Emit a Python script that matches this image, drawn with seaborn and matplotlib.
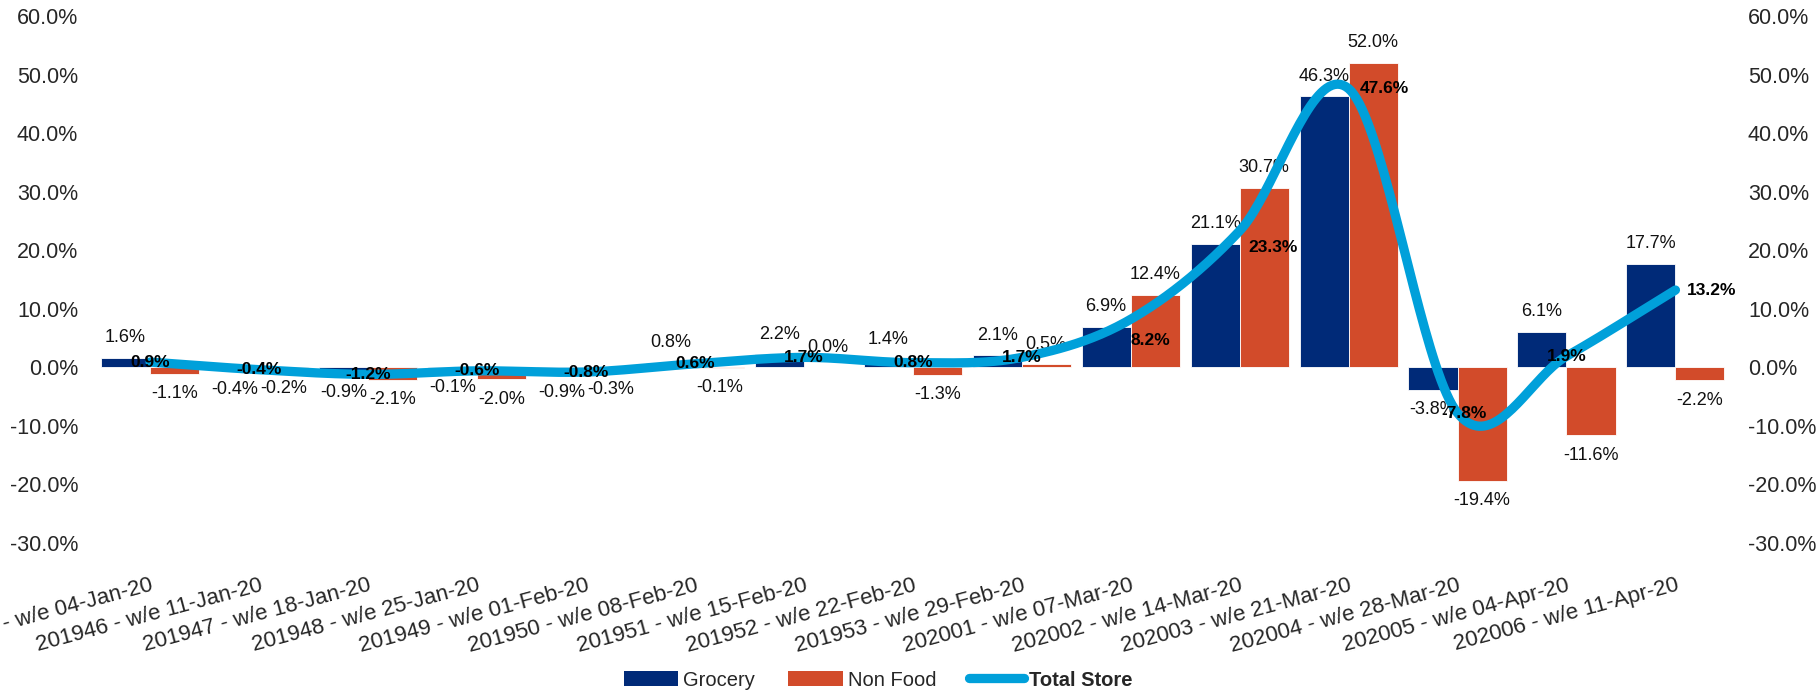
import numpy as np
import pandas as pd
import matplotlib
matplotlib.use("Agg")
import matplotlib.pyplot as plt
import seaborn as sns
from matplotlib.ticker import FuncFormatter, MultipleLocator
from matplotlib.lines import Line2D
from matplotlib.patches import Patch

# ---- data -----------------------------------------------------------------
weeks = [
    "201945 - w/e 04-Jan-20", "201946 - w/e 11-Jan-20", "201947 - w/e 18-Jan-20",
    "201948 - w/e 25-Jan-20", "201949 - w/e 01-Feb-20", "201950 - w/e 08-Feb-20",
    "201951 - w/e 15-Feb-20", "201952 - w/e 22-Feb-20", "201953 - w/e 29-Feb-20",
    "202001 - w/e 07-Mar-20", "202002 - w/e 14-Mar-20", "202003 - w/e 21-Mar-20",
    "202004 - w/e 28-Mar-20", "202005 - w/e 04-Apr-20", "202006 - w/e 11-Apr-20",
]
grocery = [1.6, -0.4, -0.9, -0.1, -0.9, 0.8, 2.2, 1.4, 2.1, 6.9, 21.1, 46.3, -3.8, 6.1, 17.7]
non_food = [-1.1, -0.2, -2.1, -2.0, -0.3, -0.1, 0.0, -1.3, 0.5, 12.4, 30.7, 52.0, -19.4, -11.6, -2.2]
total_store = [0.9, -0.4, -1.2, -0.6, -0.8, 0.6, 1.7, 0.8, 1.7, 8.2, 23.3, 47.6, -7.8, 1.9, 13.2]

# ---- style ----------------------------------------------------------------
NAVY = "#002A78"
ORANGE = "#D24B2A"
BLUE = "#00A0DA"

# label nudges (points) for the Total Store values
total_label_offsets = {9: (14, -15), 10: (24, -12), 11: (26, 0), 12: (5, 0), 14: (26, 0)}

sns.set_theme(style="white")
plt.rcParams["font.family"] = ["Liberation Sans", "DejaVu Sans"]

fig = plt.figure(figsize=(18.2, 6.92), dpi=100)
ax = fig.add_axes([0.0525, 0.2153, 0.898, 0.7616])

n = len(weeks)
df = pd.DataFrame({
    "week": weeks * 2,
    "segment": ["Grocery"] * n + ["Non Food"] * n,
    "value": grocery + non_food,
})

sns.barplot(
    data=df, x="week", y="value", hue="segment", order=weeks,
    hue_order=["Grocery", "Non Food"], palette=[NAVY, ORANGE],
    width=0.9, gap=0, saturation=1, errorbar=None,
    edgecolor="white", linewidth=0.6, legend=False, ax=ax,
)

ax.set_xlim(-0.5, n - 0.5)
ax.set_ylim(-30, 60)
ax.yaxis.set_major_locator(MultipleLocator(10))
pct = FuncFormatter(lambda v, _: f"{v:.1f}%")
ax.yaxis.set_major_formatter(pct)
ax.set_xlabel("")
ax.set_ylabel("")
ax.set_xticks(range(n))
ax.set_xticklabels(weeks, rotation=15, ha="right", rotation_mode="anchor")
ax.tick_params(axis="x", length=0, pad=23, labelsize=16)
ax.tick_params(axis="y", length=0, pad=12.6, labelsize=15.5)
for s in ax.spines.values():
    s.set_visible(False)
ax.grid(False)

# bar value labels
half = 0.225
for series, shift in ((grocery, -half), (non_food, half)):
    for i, v in enumerate(series):
        dy = 14.4 if v >= 0 else -14.4
        ax.annotate(f"{v:.1f}%", (i + shift, v), xytext=(0, dy),
                    textcoords="offset points", ha="center", va="center",
                    fontsize=13, color="#111111")

# secondary axis carrying the Total Store line
ax2 = ax.twinx()
ax2.set_ylim(-30, 60)
ax2.yaxis.set_major_locator(MultipleLocator(10))
ax2.yaxis.set_major_formatter(pct)
ax2.tick_params(axis="y", length=0, pad=13, labelsize=15.5)
for s in ax2.spines.values():
    s.set_visible(False)
ax2.grid(False)


def smooth_curve(values, steps=40):
    """Catmull-Rom style smoothing through the points at integer x."""
    p = np.asarray(values, dtype=float)
    xs, ys = [], []
    m = np.empty_like(p)
    m[1:-1] = (p[2:] - p[:-2]) / 2.0
    m[0] = p[1] - p[0]
    m[-1] = p[-1] - p[-2]
    for i in range(len(p) - 1):
        t = np.linspace(0, 1, steps, endpoint=(i == len(p) - 2))
        h00 = 2 * t**3 - 3 * t**2 + 1
        h10 = t**3 - 2 * t**2 + t
        h01 = -2 * t**3 + 3 * t**2
        h11 = t**3 - t**2
        ys.append(h00 * p[i] + h10 * m[i] + h01 * p[i + 1] + h11 * m[i + 1])
        xs.append(i + t)
    return np.concatenate(xs), np.concatenate(ys)


cx, cy = smooth_curve(total_store)
ax2.plot(cx, cy, color=BLUE, lw=6.7, solid_capstyle="round", zorder=3)

for i, v in enumerate(total_store):
    off = total_label_offsets.get(i, (0, 0))
    ax2.annotate(f"{v:.1f}%", (i, v), xytext=off, textcoords="offset points",
                 ha="center", va="center", fontsize=12.5, fontweight="bold",
                 color="black", zorder=4)

# legend
handles = [
    Patch(facecolor=NAVY, edgecolor="none"),
    Patch(facecolor=ORANGE, edgecolor="none"),
    Line2D([0], [0], color=BLUE, lw=6.7, solid_capstyle="round"),
]
leg = fig.legend(handles, ["Grocery", "Non Food", "Total Store"], loc="center",
                 bbox_to_anchor=(878 / 1820, 1 - 680 / 692), ncol=3, frameon=False,
                 fontsize=14.5, handlelength=2.7, handletextpad=0.25,
                 columnspacing=1.65, handleheight=0.7)
leg.get_texts()[2].set_fontweight("bold")

fig.savefig("out.png", dpi=100, facecolor="white")
